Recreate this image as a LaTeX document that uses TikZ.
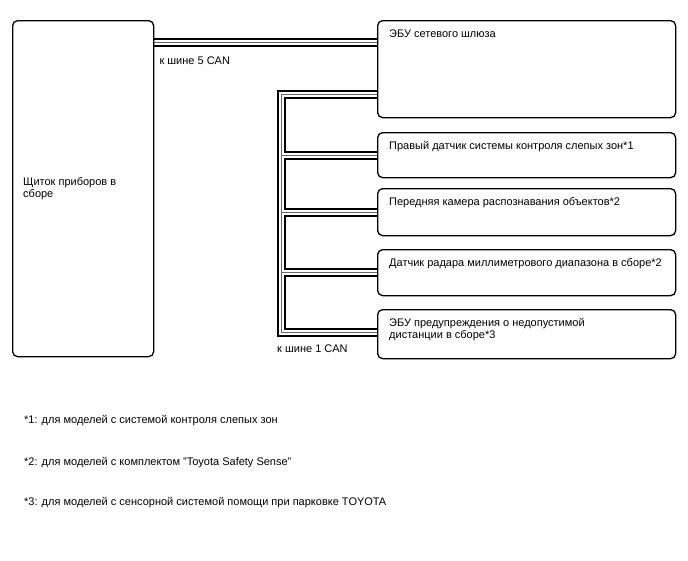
\documentclass[tikz,border=0pt]{standalone}
\usepackage{fontspec}
\setmainfont{Liberation Sans}
\usepackage{tikz}
\usetikzlibrary{positioning,calc,backgrounds}
\tikzset{
  unit box/.style={
    draw,
    rectangle,
    rounded corners=5pt,
    line width=1.3pt,
    anchor=north west,
    inner sep=0pt,
    minimum width=298pt
  },
  unit text/.style={
    anchor=base west,
    inner sep=0pt,
    align=left,
    font=\fontsize{11}{12.5}\selectfont
  },
  can bus/.style={
    draw=black,
    line width=9pt,
    line join=miter,
    postaction={draw=white, line width=5pt,
      postaction={draw=black!60, line width=0.8pt}}
  }
}

\begin{document}
\begin{tikzpicture}[x=1pt, y=-1pt]
  \useasboundingbox (0,0) rectangle (688,560);

  % Combination meter on left
  \node[unit box, minimum width=141pt, minimum height=336pt] (ic) at (12,20) {};
  \node[unit text, anchor=west] (ic text) at ($(ic.west)+(11,0)$) {Щиток приборов в\\сборе};

  % ECUs on right
  \node[unit box, minimum height=97pt] (gw) at (377,20) {};
  \node[unit box, minimum height=45pt] (bsm) at (377,132) {};
  \node[unit box, minimum height=47pt] (cam) at (377,188) {};
  \node[unit box, minimum height=46pt] (radar) at (377,249) {};
  \node[unit box, minimum height=49pt] (pcs) at (377,309) {};

  \node[unit text] (gw text) at ($(gw.north west)+(12,17)$) {ЭБУ сетевого шлюза};
  \node[unit text] (bsm text) at ($(bsm.north west)+(12,17)$) {Правый датчик системы контроля слепых зон*1};
  \node[unit text] (cam text) at ($(cam.north west)+(12,17)$) {Передняя камера распознавания объектов*2};
  \node[unit text] (radar text) at ($(radar.north west)+(12,17)$) {Датчик радара миллиметрового диапазона в сборе*2};
  \node[unit text] (pcs text) at ($(pcs.north west)+(12,29.5)$) {ЭБУ предупреждения о недопустимой\\дистанции в сборе*3};

  % CAN buses
  \coordinate (can5) at (0,42);
  \coordinate (bus top) at (281,94);
  \coordinate (bus bot) at (281,332);
  \begin{scope}[on background layer]
    \draw[can bus] (ic.east |- can5) -- (gw.west |- can5);
    \draw[can bus] (gw.west |- bus top) -- (bus top) -- (bus bot) -- (pcs.west |- bus bot)
      (bus top |- bsm.west) -- (bsm.west)
      (bus top |- cam.west) -- (cam.west)
      (bus top |- radar.west) -- (radar.west);
  \end{scope}
  \node[unit text] (can5 label) at ($(ic.east |- can5)+(5,22)$) {к шине 5 CAN};
  \node[unit text] (can1 label) at ($(bus bot)+(-4,20)$) {к шине 1 CAN};

  % Notes
  \node[unit text] (note1) at (24,423) {*1: для моделей с системой контроля слепых зон};
  \node[unit text] (note2) at (24,465) {*2: для моделей с комплектом "Toyota Safety Sense"};
  \node[unit text] (note3) at (24,505) {*3: для моделей с сенсорной системой помощи при парковке TOYOTA};

\end{tikzpicture}
\end{document}
